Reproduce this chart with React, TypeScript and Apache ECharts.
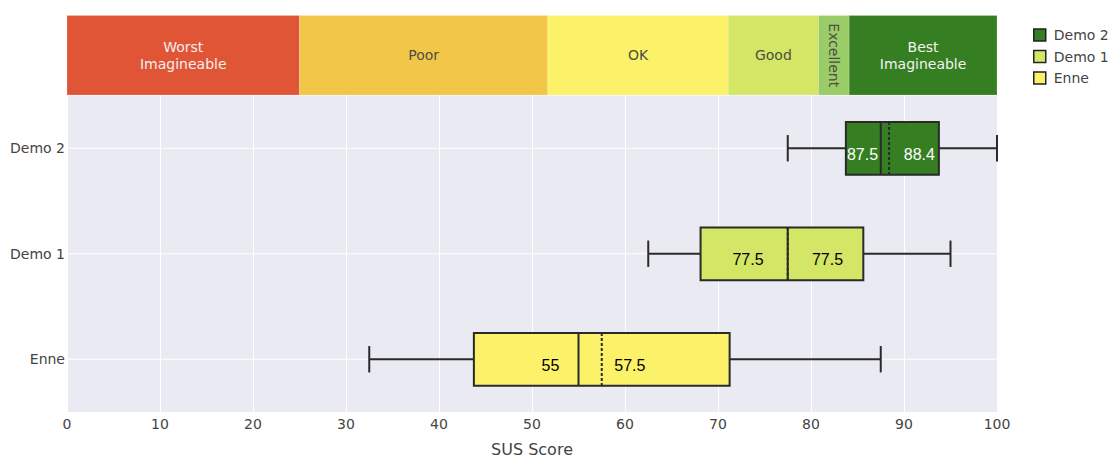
import React, { useEffect, useRef } from 'react';
import * as echarts from 'echarts';

// ---- data ----
const categories = ['Enne', 'Demo 1', 'Demo 2'];
const seriesNames = ['Demo 2', 'Demo 1', 'Enne'];
const whiskerLow = [77.5, 62.5, 32.5];
const quartile1 = [83.75, 68.125, 43.75];
const medians = [87.5, 77.5, 55];
const quartile3 = [93.75, 85.625, 71.25];
const whiskerHigh = [100, 95, 87.5];
const means = [88.4, 77.5, 57.5];
const boxColors = ['#367E22', '#D4E665', '#FBF26A'];
const labelColors = ['#ffffff', '#000000', '#000000'];

const bandNames = ['Worst\nImagineable', 'Poor', 'OK', 'Good', 'Excellent', 'Best\nImagineable'];
const bandStart = [0, 25, 51.7, 71.1, 80.8, 84.1];
const bandEnd = [25, 51.7, 71.1, 80.8, 84.1, 100];
const bandColors = ['#E05536', '#F2C646', '#FBF26A', '#D4E665', '#9ACD67', '#367E22'];
const bandTextColors = ['#f6eeee', '#4e4e44', '#4e4e44', '#4e4e44', '#4e4e44', '#f2f4f0'];

const LABEL_OFFSET = 4.27; // data units from mid of median/mean
const BOX_FONT = '"Liberation Sans", Arial, sans-serif';
const UI_FONT = '"DejaVu Sans", sans-serif';

let measureCtx: CanvasRenderingContext2D | null = null;
function textWidth(t: string, size: number, family: string) {
  if (!measureCtx) measureCtx = document.createElement('canvas').getContext('2d');
  if (!measureCtx) return t.length * size * 0.55;
  measureCtx.font = `${size}px ${family}`;
  return measureCtx.measureText(t).width;
}

export default function App() {
  const ref = useRef<HTMLDivElement>(null);
  useEffect(() => {
    if (!ref.current) return;
    const chart = echarts.init(ref.current, undefined, { renderer: 'svg' });

    const boxSeries = seriesNames.map((name, i) => ({
      name,
      type: 'custom',
      xAxisIndex: 0,
      yAxisIndex: 0,
      itemStyle: { color: boxColors[i] },
      encode: { x: [0, 1, 2, 3, 4, 5], y: 6 },
      data: [[whiskerLow[i], quartile1[i], medians[i], quartile3[i], whiskerHigh[i], means[i], categories.indexOf(name)]],
      renderItem: (params: any, api: any) => {
        const cat = api.value(6);
        const px = (v: number) => api.coord([v, cat])[0];
        const yC = api.coord([0, cat])[1];
        const band = api.size([0, 1])[1];
        const boxH = band * 0.5;
        const capH = boxH * 0.5;
        const lo = px(api.value(0));
        const b1 = px(api.value(1));
        const md = px(api.value(2));
        const b3 = px(api.value(3));
        const hi = px(api.value(4));
        const mn = px(api.value(5));
        const cs = params.coordSys;
        const lineStroke = '#2a2a2a';
        const fs = 16;
        const medText = String(api.value(2));
        const meanText = String(api.value(5));
        const mid = (api.value(2) + api.value(5)) / 2;
        const wMed = textWidth(medText, fs, BOX_FONT);
        const wMean = textWidth(meanText, fs, BOX_FONT);
        let cMed = px(mid - LABEL_OFFSET);
        let cMean = px(mid + LABEL_OFFSET);
        if (cMed - wMed / 2 < b1 + 1) cMed = b1 + 1 + wMed / 2;
        if (cMean + wMean / 2 > b3 - 4) cMean = b3 - 4 - wMean / 2;
        const ty = yC + 6;
        return {
          type: 'group',
          children: [
            { type: 'line', shape: { x1: cs.x, y1: yC, x2: cs.x + cs.width, y2: yC }, style: { stroke: '#ffffff', lineWidth: 1 } },
            { type: 'line', shape: { x1: lo, y1: yC, x2: b1, y2: yC }, style: { stroke: lineStroke, lineWidth: 2 } },
            { type: 'line', shape: { x1: b3, y1: yC, x2: hi, y2: yC }, style: { stroke: lineStroke, lineWidth: 2 } },
            { type: 'line', shape: { x1: lo, y1: yC - capH / 2, x2: lo, y2: yC + capH / 2 }, style: { stroke: lineStroke, lineWidth: 2 } },
            { type: 'line', shape: { x1: hi, y1: yC - capH / 2, x2: hi, y2: yC + capH / 2 }, style: { stroke: lineStroke, lineWidth: 2 } },
            { type: 'rect', shape: { x: b1, y: yC - boxH / 2, width: b3 - b1, height: boxH }, style: { fill: boxColors[i], stroke: lineStroke, lineWidth: 2 } },
            { type: 'line', shape: { x1: md, y1: yC - boxH / 2, x2: md, y2: yC + boxH / 2 }, style: { stroke: lineStroke, lineWidth: 2 } },
            { type: 'line', shape: { x1: mn, y1: yC - boxH / 2, x2: mn, y2: yC + boxH / 2 }, style: { stroke: lineStroke, lineWidth: 2, lineDash: [3, 2] } },
            { type: 'text', x: cMed, y: ty, style: { text: medText, fill: labelColors[i], fontSize: fs, fontFamily: BOX_FONT, align: 'center', verticalAlign: 'middle' } },
            { type: 'text', x: cMean, y: ty, style: { text: meanText, fill: labelColors[i], fontSize: fs, fontFamily: BOX_FONT, align: 'center', verticalAlign: 'middle' } },
          ],
        };
      },
    }));

    const bandSeries = {
      type: 'custom',
      xAxisIndex: 1,
      yAxisIndex: 1,
      silent: true,
      encode: { x: [0, 1] },
      data: bandStart.map((s, i) => [s, bandEnd[i]]),
      renderItem: (params: any, api: any) => {
        const k = params.dataIndex;
        const x0 = api.coord([api.value(0), 0])[0];
        const x1 = api.coord([api.value(1), 0])[0];
        const yTop = api.coord([0, 1])[1];
        const yBot = api.coord([0, 0])[1];
        const label = bandNames[k];
        const longest = Math.max(...label.split('\n').map((l) => textWidth(l, 14, UI_FONT)));
        const vertical = longest > x1 - x0 - 4;
        return {
          type: 'group',
          children: [
            { type: 'rect', shape: { x: x0, y: yTop, width: x1 - x0, height: yBot - yTop }, style: { fill: bandColors[k], stroke: 'rgba(255,255,255,0.35)', lineWidth: 0.5 } },
            {
              type: 'text',
              x: (x0 + x1) / 2,
              y: (yTop + yBot) / 2,
              rotation: vertical ? -Math.PI / 2 : 0,
              style: { text: label, fill: bandTextColors[k], fontSize: 14, fontFamily: UI_FONT, align: 'center', verticalAlign: 'middle', lineHeight: 17.5 },
            },
          ],
        };
      },
    };

    chart.setOption({
      animation: false,
      textStyle: { fontFamily: UI_FONT },
      legend: {
        orient: 'vertical',
        left: 1028,
        top: 23,
        itemWidth: 12,
        itemHeight: 12,
        itemGap: 7.5,
        icon: 'rect',
        data: seriesNames,
        itemStyle: { borderColor: '#222', borderWidth: 1.5 },
        textStyle: { fontSize: 14, color: '#444', fontFamily: UI_FONT, lineHeight: 14, padding: [0, 0, 0, 3] },
        selectedMode: false,
      },
      grid: [
        { left: 67, right: 115, top: 95.5, bottom: 45.5, show: true, backgroundColor: '#EAEAF2', borderWidth: 0, containLabel: false },
        { left: 67, right: 115, top: 15.5, height: 79.5, show: false, containLabel: false },
      ],
      xAxis: [
        {
          type: 'value',
          gridIndex: 0,
          min: 0,
          max: 100,
          interval: 10,
          name: 'SUS Score',
          nameLocation: 'middle',
          nameGap: 29,
          nameTextStyle: { fontSize: 16, color: '#444', fontFamily: UI_FONT },
          axisLine: { show: false },
          axisTick: { show: false },
          axisLabel: { fontSize: 14, color: '#444', margin: 5, fontFamily: UI_FONT },
          splitLine: { show: true, lineStyle: { color: '#ffffff', width: 1 } },
        },
        { type: 'value', gridIndex: 1, min: 0, max: 100, show: false },
      ],
      yAxis: [
        {
          type: 'category',
          gridIndex: 0,
          data: categories,
          axisLine: { show: false },
          axisTick: { show: false },
          axisLabel: { fontSize: 14, color: '#444', margin: 2, fontFamily: UI_FONT },
          splitLine: { show: false },
        },
        { type: 'value', gridIndex: 1, min: 0, max: 1, show: false },
      ],
      series: [bandSeries, ...boxSeries],
    });
    return () => chart.dispose();
  }, []);
  return <div ref={ref} style={{ position: 'absolute', left: 0, top: 0, width: 1112, height: 462 }} />;
}
